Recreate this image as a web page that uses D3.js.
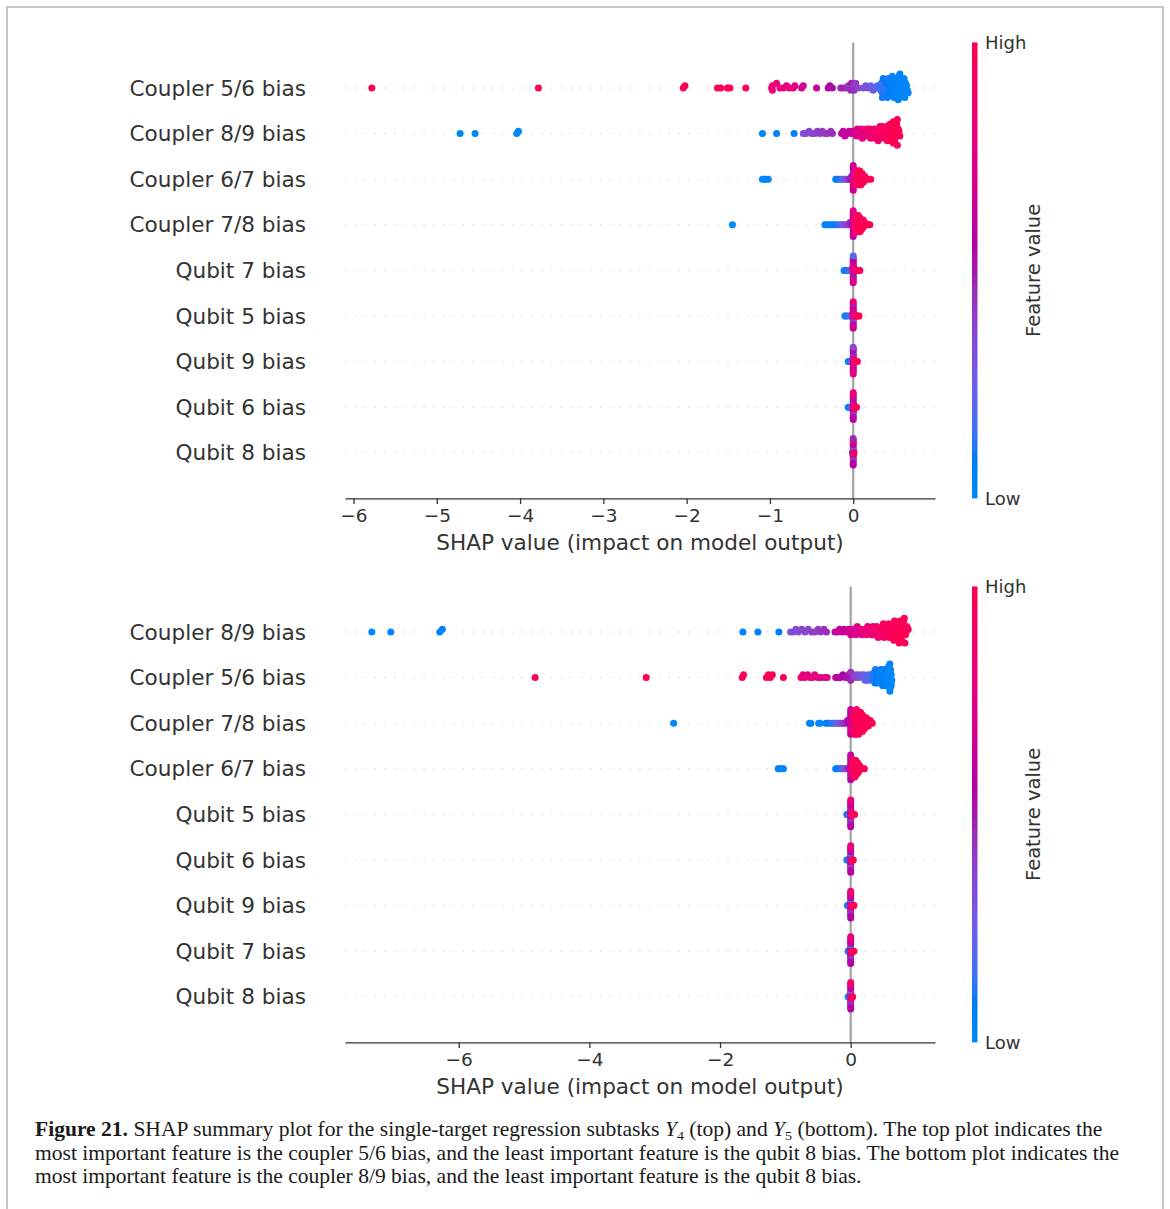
<!DOCTYPE html>
<html>
<head>
<meta charset="utf-8">
<script src="https://cdn.jsdelivr.net/npm/d3@7"></script>
<style>
  html, body { margin: 0; padding: 0; background: #fff; }
  svg { display: block; }
</style>
</head>
<body>
<svg id="fig" width="1170" height="1209"></svg>
<script>
// ---------------------------------------------------------------
// SHAP summary data: each point is [SHAP value, normalised feature value (0 = low, 1 = high)]
// ---------------------------------------------------------------

// ---- Y4 subtask (upper panel), features ordered top to bottom ----
const featuresY4 = ["Coupler 5/6 bias", "Coupler 8/9 bias", "Coupler 6/7 bias", "Coupler 7/8 bias",
  "Qubit 7 bias", "Qubit 5 bias", "Qubit 9 bias", "Qubit 6 bias", "Qubit 8 bias"];
const ticksY4 = [-6, -5, -4, -3, -2, -1, 0];

const y4Coupler56 = [
  [-5.78,1],[-3.78,1],[-2.04,1],[-2.02,.97],[-1.63,1],[-1.59,.98],[-1.51,.99],[-1.48,1],[-1.29,.98],
  [-0.98,.86],[-0.97,.83],[-0.97,.84],[-0.92,.82],[-0.88,.8],[-0.84,.83],[-0.80,.79],[-0.77,.81],[-0.72,.78],[-0.70,.77],[-0.62,.72],[-0.60,.7],
  [-0.44,.63],[-0.30,.57],[-0.28,.55],[-0.25,.53],
  [-0.15,.47],[-0.12,.49],[-0.08,.45],[-0.06,.44],[-0.03,.46],[-0.02,.5],[0,.47],[0,.42],[0.01,.45],[0.03,.41],[0.06,.38],
  [0.12,.33],[0.15,.3],[0.18,.31],[0.21,.27],[0.24,.26],[0.27,.22],[0.29,.2],[0.31,.17],[0.32,.15],[0.33,.16],
  [0.34,.13],[0.35,.12],[0.36,.14],[0.37,.1],[0.38,.11],[0.39,.12],[0.36,.09],[0.38,.13],[0.35,.1],
  [0.40,.08],[0.41,.1],[0.42,.07],[0.43,.09],[0.44,.06],[0.45,.08],[0.46,.05],[0.42,.11],[0.44,.07],[0.41,.06],
  [0.47,.05],[0.48,.07],[0.49,.04],[0.50,.06],[0.51,.03],[0.52,.05],[0.48,.02],[0.50,.04],[0.49,.06],[0.51,.02],[0.47,.03],
  [0.53,.03],[0.54,.02],[0.55,.04],[0.56,.01],[0.57,.03],[0.58,.02],[0.59,.04],[0.55,.01],[0.57,.02],[0.54,.03],[0.56,.05],
  [0.60,.02],[0.61,.01],[0.62,.03],[0.63,0],[0.64,.02],[0.65,.01],[0.61,.03],[0.63,.02],[0.62,0],[0.66,.01]
];
const y4Coupler89 = [
  [-4.72,0],[-4.54,.02],[-4.04,.01],[-4.02,.03],[-1.09,.03],[-0.92,.05],[-0.71,.08],
  [-0.60,.33],[-0.57,.35],[-0.53,.37],[-0.50,.36],[-0.46,.38],[-0.43,.4],[-0.40,.39],[-0.37,.42],[-0.34,.4],[-0.31,.43],[-0.27,.44],[-0.25,.46],
  [-0.14,.58],[-0.12,.6],[-0.10,.62],[-0.07,.63],[-0.05,.62],[-0.02,.66],[0,.68],[0.01,.65],[0.02,.7],
  [0.04,.72],[0.05,.75],[0.06,.74],
  [0.08,.77],[0.09,.76],[0.10,.79],[0.11,.78],
  [0.13,.8],[0.14,.82],[0.15,.79],[0.16,.83],[0.17,.81],
  [0.18,.84],[0.19,.83],[0.20,.86],[0.21,.85],[0.22,.87],
  [0.23,.86],[0.24,.88],[0.25,.87],[0.26,.89],[0.27,.88],
  [0.28,.9],[0.29,.89],[0.30,.91],[0.31,.9],[0.32,.92],[0.30,.88],
  [0.33,.91],[0.34,.93],[0.35,.92],[0.36,.94],[0.37,.93],[0.35,.95],
  [0.38,.94],[0.39,.96],[0.40,.95],[0.41,.97],[0.42,.96],[0.40,.93],[0.41,.98],
  [0.43,.97],[0.44,.99],[0.45,.98],[0.46,1],[0.47,.97],[0.45,.96],[0.46,.99],[0.44,1],
  [0.48,.98],[0.49,1],[0.50,.99],[0.51,1],[0.52,.98],[0.50,1],[0.51,.97],[0.49,.99],[0.52,1],[0.50,.98],[0.48,1],[0.51,.99],
  [0.53,1],[0.54,.99],[0.55,1],[0.56,.98],[0.53,.97],[0.54,1]
];
const y4Coupler67 = [
  [-1.09,0],[-1.07,.02],[-1.05,.01],[-1.02,.03],
  [-0.21,.05],[-0.19,.06],[-0.17,.1],[-0.14,.15],[-0.12,.22],[-0.10,.28],[-0.08,.32],[-0.06,.38],[-0.05,.4],[-0.04,.45],[-0.03,.5],[-0.02,.48],
  [0,.55],[0,.62],[0,.7],[0,.58],[0,.66],[0,.5],[0,.74],[0,.6],[0,.68],[0,.64],
  [0.02,.78],[0.02,.72],[0.02,.8],[0.02,.75],[0.02,.83],
  [0.035,.85],[0.035,.8],[0.035,.88],[0.035,.82],[0.035,.9],[0.035,.86],
  [0.05,.9],[0.05,.93],[0.05,.87],[0.05,.95],[0.05,.91],[0.05,.97],
  [0.065,.95],[0.065,.92],[0.065,.98],[0.065,.94],[0.065,1],[0.065,.96],
  [0.08,.97],[0.08,1],[0.08,.95],[0.08,.99],[0.08,.96],[0.08,1],
  [0.095,1],[0.095,.98],[0.095,.96],[0.095,1],[0.095,.99],
  [0.11,1],[0.11,.97],[0.11,.99],[0.11,1],
  [0.125,.98],[0.125,1],[0.125,.99],
  [0.14,1],[0.14,.98],[0.16,1],[0.18,1],[0.21,1]
];
const y4Coupler78 = [
  [-1.45,0],
  [-0.34,.02],[-0.32,.04],[-0.30,.03],[-0.27,.06],[-0.25,.05],[-0.22,.08],[-0.20,.1],[-0.17,.15],[-0.15,.2],[-0.13,.25],[-0.11,.3],[-0.09,.35],[-0.07,.38],[-0.05,.42],[-0.04,.45],[-0.02,.5],
  [0,.52],[0,.6],[0,.68],[0,.56],[0,.72],[0,.64],[0,.5],[0,.7],[0,.58],[0,.66],[0,.62],[0,.75],
  [0.02,.8],[0.02,.85],[0.02,.78],[0.02,.88],[0.02,.82],[0.02,.9],[0.02,.84],
  [0.04,.9],[0.04,.94],[0.04,.87],[0.04,.97],[0.04,.92],[0.04,1],[0.04,.95],[0.04,.89],
  [0.06,.95],[0.06,1],[0.06,.93],[0.06,.98],[0.06,.96],[0.06,1],[0.06,.94],[0.06,.99],
  [0.08,.98],[0.08,1],[0.08,.96],[0.08,1],[0.08,.99],[0.08,.97],[0.08,1],
  [0.10,1],[0.10,.98],[0.10,1],[0.10,.97],[0.10,.99],
  [0.12,1],[0.12,.99],[0.12,1],[0.12,.98],
  [0.14,1],[0.14,.99],[0.16,1],[0.18,1],[0.20,1]
];
const y4Qubit7 = [
  [-0.11,0],[-0.10,.04],[-0.08,.1],[-0.05,.18],[-0.03,.25],[-0.02,.3],[-0.01,.36],[-0.01,.42],
  [0,.45],[0,.6],[0,.52],[0,.7],[0,.38],[0,.65],[0,.55],[0,.75],[0,.48],[0,.62],[0,.8],[0,.58],[0,.68],[0,.2],
  [0.01,.72],[0.01,.78],[0.02,.84],[0.03,.88],[0.05,.93],[0.07,1],[0.08,.97]
];
const y4Qubit5 = [
  [-0.10,0],[-0.09,.05],[-0.07,.12],[-0.04,.2],[-0.02,.28],[-0.01,.35],[-0.01,.4],
  [0,.5],[0,.62],[0,.44],[0,.72],[0,.56],[0,.66],[0,.3],[0,.78],[0,.52],[0,.6],[0,.7],[0,.47],[0,.64],[0,.82],
  [0.01,.7],[0.01,.76],[0.02,.82],[0.04,.9],[0.06,.96],[0.07,1]
];
const y4Qubit9 = [
  [-0.06,0],[-0.05,.05],[-0.04,.1],[-0.02,.22],[-0.01,.3],[-0.01,.38],
  [0,.46],[0,.6],[0,.52],[0,.1],[0,.68],[0,.56],[0,.74],[0,.42],[0,.64],[0,.5],[0,.7],[0,.58],[0,.8],[0,.35],
  [0.01,.72],[0.01,.8],[0.02,.86],[0.03,.92],[0.04,.97],[0.05,1]
];
const y4Qubit6 = [
  [-0.06,0],[-0.05,.06],[-0.03,.14],[-0.02,.24],[-0.01,.32],
  [0,.5],[0,.64],[0,.44],[0,.7],[0,.56],[0,.08],[0,.76],[0,.6],[0,.4],[0,.66],[0,.52],[0,.72],[0,.58],[0,.84],
  [0.01,.74],[0.01,.82],[0.02,.9],[0.03,.96],[0.04,1]
];
const y4Qubit8 = [
  [-0.01,.1],[-0.005,.3],
  [0,.5],[0,.64],[0,.44],[0,.72],[0,.56],[0,.2],[0,.8],[0,.6],[0,.38],[0,.68],[0,.52],[0,.9],[0,.58],[0,.46],
  [0.005,.76],[0.01,.9]
];

// ---- Y5 subtask (lower panel), features ordered top to bottom ----
const featuresY5 = ["Coupler 8/9 bias", "Coupler 5/6 bias", "Coupler 7/8 bias", "Coupler 6/7 bias",
  "Qubit 5 bias", "Qubit 6 bias", "Qubit 9 bias", "Qubit 7 bias", "Qubit 8 bias"];
const ticksY5 = [-6, -4, -2, 0];

const y5Coupler89 = [
  [-7.33,0],[-7.04,.02],[-6.29,.01],[-6.25,.03],[-1.65,.03],[-1.42,.05],[-1.10,.07],
  [-0.92,.3],[-0.88,.33],[-0.84,.35],[-0.80,.34],[-0.75,.37],[-0.70,.38],[-0.65,.36],[-0.60,.4],[-0.55,.42],[-0.50,.41],[-0.46,.43],[-0.41,.44],[-0.37,.45],
  [-0.24,.6],[-0.20,.62],[-0.17,.64],[-0.13,.63],[-0.10,.66],[-0.06,.65],[-0.03,.68],[0,.7],[0.02,.69],[0.04,.72],
  [0.08,.74],[0.10,.76],[0.12,.75],
  [0.15,.78],[0.17,.77],[0.19,.8],[0.21,.79],
  [0.24,.82],[0.26,.81],[0.28,.84],[0.30,.83],
  [0.32,.86],[0.34,.85],[0.36,.88],[0.38,.87],[0.35,.84],
  [0.40,.89],[0.42,.88],[0.44,.91],[0.46,.9],[0.43,.92],
  [0.49,.92],[0.51,.91],[0.53,.94],[0.55,.93],[0.50,.95],[0.52,.9],
  [0.57,.95],[0.59,.94],[0.61,.97],[0.63,.96],[0.58,.93],[0.60,.98],[0.62,.95],
  [0.65,.97],[0.67,.99],[0.69,.98],[0.71,1],[0.66,.96],[0.68,1],[0.70,.97],[0.67,.98],
  [0.73,1],[0.75,.98],[0.77,1],[0.79,.99],[0.74,.97],[0.76,1],[0.78,.98],[0.75,1],[0.77,.99],[0.76,.97],[0.74,1],[0.78,1],
  [0.81,1],[0.83,.99],[0.85,1],[0.88,.98],[0.82,.97],[0.84,1],[0.86,.99]
];
const y5Coupler56 = [
  [-4.83,1],[-3.13,1],[-1.66,1],[-1.64,.98],[-1.29,1],[-1.26,.97],[-1.23,.99],[-1.20,1],[-1.03,.98],
  [-0.76,.84],[-0.73,.82],[-0.70,.83],[-0.66,.8],[-0.62,.81],[-0.58,.79],[-0.55,.8],[-0.50,.78],[-0.46,.76],[-0.40,.75],[-0.36,.74],
  [-0.23,.62],[-0.20,.6],[-0.16,.58],[-0.12,.56],[-0.08,.55],[-0.05,.52],[-0.03,.5],[0,.48],[0,.45],[0.02,.47],[0.04,.43],[0.06,.4],
  [0.09,.35],[0.12,.33],[0.15,.3],[0.18,.28],[0.20,.26],[0.22,.24],[0.25,.22],[0.27,.2],[0.29,.18],[0.31,.16],[0.28,.19],[0.24,.21],
  [0.33,.14],[0.34,.12],[0.35,.13],[0.36,.11],[0.37,.1],
  [0.38,.1],[0.39,.08],[0.40,.09],[0.41,.07],[0.42,.08],[0.40,.06],
  [0.44,.06],[0.45,.07],[0.46,.05],[0.47,.06],[0.45,.04],[0.46,.08],
  [0.49,.05],[0.50,.03],[0.51,.04],[0.52,.02],[0.53,.05],[0.50,.06],[0.51,.03],
  [0.55,.03],[0.56,.02],[0.57,.04],[0.58,.01],[0.56,.03],[0.57,.02],[0.55,.05],[0.58,.03],
  [0.60,.02],[0.61,.01],[0.62,.03],[0.63,0],[0.61,.02],[0.60,.04],[0.62,.01],[0.61,0],[0.62,.02],[0.60,.01]
];
const y5Coupler78 = [
  [-2.71,0],[-0.63,.02],[-0.61,.03],[-0.49,.04],[-0.47,.02],
  [-0.38,.05],[-0.35,.08],[-0.32,.1],[-0.28,.12],[-0.25,.15],[-0.22,.2],[-0.19,.25],[-0.17,.3],[-0.14,.35],[-0.11,.4],[-0.08,.45],[-0.05,.5],[-0.03,.55],
  [0,.55],[0,.62],[0,.7],[0,.58],[0,.66],[0,.6],[0,.74],[0,.52],[0,.64],[0,.68],
  [0.03,.72],[0.03,.78],[0.03,.68],[0.03,.82],[0.03,.75],[0.03,.85],[0.03,.8],
  [0.06,.85],[0.06,.9],[0.06,.82],[0.06,.94],[0.06,.88],[0.06,.96],[0.06,.86],[0.06,.92],[0.06,.9],
  [0.09,.92],[0.09,.97],[0.09,.9],[0.09,1],[0.09,.95],[0.09,.98],[0.09,.93],[0.09,1],[0.09,.96],[0.09,.94],
  [0.12,.96],[0.12,1],[0.12,.94],[0.12,.99],[0.12,.97],[0.12,1],[0.12,.95],[0.12,.98],[0.12,1],
  [0.15,1],[0.15,.97],[0.15,.99],[0.15,1],[0.15,.96],[0.15,.98],[0.15,1],[0.15,.99],
  [0.18,1],[0.18,.98],[0.18,1],[0.18,.97],[0.18,.99],[0.18,1],[0.18,.98],
  [0.21,1],[0.21,.99],[0.21,1],[0.21,.98],[0.21,1],
  [0.24,1],[0.24,.99],[0.24,1],[0.24,.98],
  [0.27,1],[0.27,.99],[0.27,1],
  [0.30,1],[0.30,.99],[0.33,1]
];
const y5Coupler67 = [
  [-1.11,0],[-1.09,.02],[-1.06,.01],[-1.03,.03],
  [-0.23,.04],[-0.21,.06],[-0.19,.05],[-0.16,.1],[-0.14,.15],[-0.12,.2],[-0.10,.28],[-0.08,.33],[-0.06,.38],[-0.04,.42],[-0.02,.48],
  [0,.5],[0,.58],[0,.66],[0,.54],[0,.7],[0,.62],[0,.46],[0,.68],[0,.56],[0,.64],
  [0.02,.75],[0.02,.8],[0.02,.72],[0.02,.85],[0.02,.78],
  [0.035,.84],[0.035,.88],[0.035,.8],[0.035,.92],[0.035,.86],[0.035,.9],
  [0.05,.9],[0.05,.95],[0.05,.88],[0.05,.98],[0.05,.93],[0.05,1],[0.05,.91],
  [0.065,.95],[0.065,1],[0.065,.93],[0.065,.98],[0.065,.96],[0.065,1],[0.065,.97],
  [0.08,1],[0.08,.97],[0.08,.99],[0.08,1],[0.08,.96],[0.08,.98],
  [0.095,1],[0.095,.98],[0.095,1],[0.095,.99],[0.095,.97],
  [0.11,1],[0.11,.99],[0.11,1],[0.11,.98],
  [0.125,1],[0.125,.99],[0.125,1],
  [0.14,1],[0.14,.99],[0.16,1],[0.18,1],[0.21,1]
];
const y5Qubit5 = [
  [-0.06,0],[-0.05,.05],[-0.03,.14],[-0.02,.24],[-0.01,.32],
  [0,.5],[0,.62],[0,.44],[0,.7],[0,.56],[0,.1],[0,.76],[0,.6],[0,.4],[0,.66],[0,.52],[0,.72],[0,.58],[0,.84],
  [0.01,.74],[0.01,.82],[0.02,.88],[0.04,.95],[0.06,1]
];
const y5Qubit6 = [
  [-0.06,0],[-0.04,.06],[-0.02,.2],[-0.01,.3],
  [0,.48],[0,.62],[0,.42],[0,.7],[0,.55],[0,.12],[0,.76],[0,.6],[0,.36],[0,.66],[0,.52],[0,.74],[0,.58],[0,.82],
  [0.01,.76],[0.02,.86],[0.03,.94],[0.04,1]
];
const y5Qubit9 = [
  [-0.05,0],[-0.04,.06],[-0.02,.18],[-0.01,.3],
  [0,.5],[0,.64],[0,.44],[0,.72],[0,.56],[0,.15],[0,.78],[0,.6],[0,.38],[0,.68],[0,.52],[0,.74],[0,.58],[0,.86],
  [0.01,.78],[0.02,.88],[0.04,.96],[0.05,1]
];
const y5Qubit7 = [
  [-0.04,0],[-0.03,.08],[-0.01,.26],
  [0,.5],[0,.62],[0,.44],[0,.7],[0,.55],[0,.18],[0,.76],[0,.6],[0,.4],[0,.66],[0,.52],[0,.72],[0,.58],[0,.84],
  [0.01,.8],[0.03,.92],[0.05,1]
];
const y5Qubit8 = [
  [-0.04,0],[-0.02,.12],[-0.01,.3],
  [0,.5],[0,.64],[0,.44],[0,.72],[0,.56],[0,.2],[0,.8],[0,.6],[0,.4],[0,.68],[0,.52],[0,.76],[0,.58],[0,.88],
  [0.01,.82],[0.02,.92],[0.03,1]
];

const rowsY4 = [y4Coupler56, y4Coupler89, y4Coupler67, y4Coupler78, y4Qubit7, y4Qubit5, y4Qubit9, y4Qubit6, y4Qubit8];
const rowsY5 = [y5Coupler89, y5Coupler56, y5Coupler78, y5Coupler67, y5Qubit5, y5Qubit6, y5Qubit9, y5Qubit7, y5Qubit8];

const axisTitle = "SHAP value (impact on model output)";
const colorbarTitle = "Feature value";
const colorbarEnds = ["High", "Low"];

const captionLines = [
  [{t: "Figure 21.", b: true}, {t: " SHAP summary plot for the single-target regression subtasks "},
   {t: "Y", i: true}, {t: "4", sub: true}, {t: " (top) and "}, {t: "Y", i: true}, {t: "5", sub: true},
   {t: " (bottom). The top plot indicates the"}],
  [{t: "most important feature is the coupler 5/6 bias, and the least important feature is the qubit 8 bias. The bottom plot indicates the"}],
  [{t: "most important feature is the coupler 8/9 bias, and the least important feature is the qubit 8 bias."}]
];

// ---------------------------------------------------------------
// Drawing
// ---------------------------------------------------------------
const FONT = "'DejaVu Sans', sans-serif";
const AX_L = 345, AX_R = 935;
const svg = d3.select("#fig");

// SHAP red-blue colormap, interpolated in LCh with a lightness dip in the middle
function shapColor(t) {
  t = Math.max(0, Math.min(1, t));
  const l = t < 0.5 ? 54 - 28 * t : 40 + 28 * (t - 0.5);
  const c = 70 + 20 * t;
  const h = 266.93 + (380.32 - 266.93) * t;
  return d3.hcl(h % 360, c, l).formatHex();
}

// beeswarm offsets: bin the values, then stack points alternately above/below the row
function swarm(points, rowHeight = 0.4, nbins = 100) {
  const s = points.map(d => d[0]);
  const mn = d3.min(s), mx = d3.max(s);
  const quant = s.map(v => Math.round(nbins * (v - mn) / (mx - mn + 1e-8)));
  const order = d3.range(s.length).sort((a, b) => quant[a] - quant[b] || a - b);
  const ys = new Array(s.length).fill(0);
  let layer = 0, last = -1;
  for (const i of order) {
    if (quant[i] !== last) layer = 0;
    ys[i] = Math.ceil(layer / 2) * ((layer % 2) * 2 - 1);
    layer += 1;
    last = quant[i];
  }
  const m = d3.max(ys, y => y + 1);
  return ys.map(y => y * 0.9 * (rowHeight / m));
}

// frame around the figure
svg.append("rect").attr("x", 7).attr("y", 7).attr("width", 1156).attr("height", 1230)
  .attr("fill", "none").attr("stroke", "#b5b5b5").attr("stroke-width", 1.5);

// colour gradient shared by both colour bars
const grad = svg.append("defs").append("linearGradient").attr("id", "fvgrad")
  .attr("x1", 0).attr("y1", 1).attr("x2", 0).attr("y2", 0);
d3.range(0, 1.0001, 0.02).forEach(t => {
  grad.append("stop").attr("offset", t).attr("stop-color", shapColor(t));
});

function drawPanel(features, rows, ticks, y0, y1) {
  const all = rows.flat().map(d => d[0]);
  const lo = d3.min(all), hi = d3.max(all), pad = 0.05 * (hi - lo);
  const x = d3.scaleLinear().domain([lo - pad, hi + pad]).range([AX_L, AX_R]);
  const n = features.length;
  const y = d3.scaleLinear().domain([-1, n]).range([y1, y0]);
  const g = svg.append("g");

  // zero reference line
  g.append("line").attr("x1", x(0)).attr("x2", x(0)).attr("y1", y0).attr("y2", y1)
    .attr("stroke", "#a3a3a3").attr("stroke-width", 2.2);

  // dotted guide for every feature row
  g.append("g").selectAll("line").data(features).join("line")
    .attr("x1", AX_L).attr("x2", AX_R)
    .attr("y1", (d, i) => y(n - 1 - i)).attr("y2", (d, i) => y(n - 1 - i))
    .attr("stroke", "#cccccc").attr("stroke-width", 0.8).attr("stroke-dasharray", "1.6 8.2");

  // points, bottom row first
  for (let i = n - 1; i >= 0; i--) {
    const pos = n - 1 - i;
    const offs = swarm(rows[i]);
    g.append("g").selectAll("circle").data(rows[i]).join("circle")
      .attr("cx", d => x(d[0]))
      .attr("cy", (d, j) => y(pos + offs[j]))
      .attr("r", 3.5)
      .attr("fill", d => shapColor(d[1]));
  }

  // feature names
  g.append("g").selectAll("text").data(features).join("text")
    .attr("x", 306).attr("y", (d, i) => y(n - 1 - i))
    .attr("text-anchor", "end").attr("dominant-baseline", "central")
    .attr("font-family", FONT).attr("font-size", 21.6).attr("fill", "#333")
    .text(d => d);

  // x axis
  const ax = g.append("g").attr("transform", `translate(0,${y1})`)
    .call(d3.axisBottom(x).tickValues(ticks).tickSize(5.7).tickSizeOuter(0).tickPadding(5));
  ax.attr("font-family", FONT);
  ax.select(".domain").attr("stroke", "#333").attr("stroke-width", 1.3);
  ax.selectAll(".tick line").attr("stroke", "#333").attr("stroke-width", 1.3);
  ax.selectAll(".tick text").attr("font-size", 18.5).attr("fill", "#333");

  g.append("text").attr("x", (AX_L + AX_R) / 2).attr("y", y1 + 44)
    .attr("text-anchor", "middle").attr("dominant-baseline", "central")
    .attr("font-family", FONT).attr("font-size", 21.6).attr("fill", "#333")
    .text(axisTitle);

  // colour bar
  g.append("rect").attr("x", 972).attr("y", y0).attr("width", 5.5).attr("height", y1 - y0)
    .attr("fill", "url(#fvgrad)");
  g.append("text").attr("x", 985).attr("y", y0).attr("dominant-baseline", "central")
    .attr("font-family", FONT).attr("font-size", 18).attr("fill", "#333").text(colorbarEnds[0]);
  g.append("text").attr("x", 985).attr("y", y1).attr("dominant-baseline", "central")
    .attr("font-family", FONT).attr("font-size", 18).attr("fill", "#333").text(colorbarEnds[1]);
  g.append("text")
    .attr("transform", `translate(1033,${(y0 + y1) / 2}) rotate(-90)`)
    .attr("text-anchor", "middle").attr("dominant-baseline", "central")
    .attr("font-family", FONT).attr("font-size", 19.5).attr("fill", "#333")
    .text(colorbarTitle);
}

drawPanel(featuresY4, rowsY4, ticksY4, 42.4, 498.4);
drawPanel(featuresY5, rowsY5, ticksY5, 586.4, 1042.4);

// caption
const capBase = [1136, 1160, 1183];
const capNodes = captionLines.map((parts, li) => {
  const t = svg.append("text").attr("font-family", "'Liberation Serif', serif")
    .attr("font-size", 20).attr("fill", "#1a1a1a");
  let shifted = false;
  parts.forEach(p => {
    const ts = t.append("tspan").text(p.t);
    if (p.b) ts.attr("font-weight", "bold");
    if (p.i) ts.attr("font-style", "italic");
    if (p.sub) { ts.attr("font-size", 13).attr("dy", 4); shifted = true; }
    else if (shifted) { ts.attr("dy", -4); shifted = false; }
  });
  return t;
});
const w2 = capNodes[1].node().getComputedTextLength();
const sx = (1120 - 35) / w2;
capNodes.forEach((t, i) => t.attr("transform", `translate(35,${capBase[i]}) scale(${sx},1)`));
</script>
</body>
</html>
